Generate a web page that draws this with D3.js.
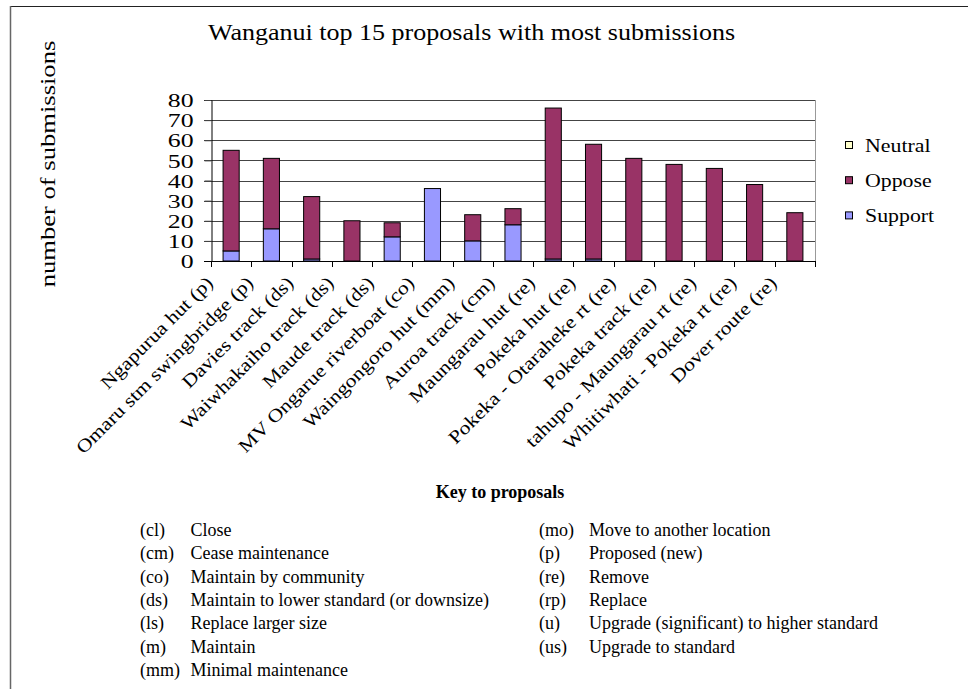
<!DOCTYPE html>
<html lang="en">
<head>
<meta charset="UTF-8">
<style>
  body { margin: 0; background: #fff; }
  svg text { font-family: "Liberation Serif", "Times New Roman", serif; fill: #000; }
  .grid line { stroke: #444; stroke-width: 1px; }
  .bar { stroke: #000; stroke-width: 1px; }
</style>
</head>
<body>
<svg width="968" height="689"></svg>
<script src="https://cdn.jsdelivr.net/npm/d3@7"></script>
<script>
// chart data
var categories = ["Ngapurua hut (p)", "Omaru stm swingbridge (p)", "Davies track (ds)",
  "Waiwhakaiho track (ds)", "Maude track (ds)", "MV Ongarue riverboat (co)",
  "Waingongoro hut (mm)", "Auroa track (cm)", "Maungarau hut (re)", "Pokeka hut (re)",
  "Pokeka - Otaraheke rt (re)", "Pokeka track (re)", "tahupo - Maungarau rt (re)",
  "Whitiwhati - Pokeka rt (re)", "Dover route (re)"];
var support = [5, 16, 1, 0, 12, 36, 10, 18, 1, 1, 0, 0, 0, 0, 0];
var oppose  = [50, 35, 31, 20, 7, 0, 13, 8, 75, 57, 51, 48, 46, 38, 24];
var neutral = [0, 0, 0, 0, 0, 0, 0, 0, 0, 0, 0, 0, 0, 0, 0];
var yTicks = [0, 10, 20, 30, 40, 50, 60, 70, 80];
var legendItems = ["Neutral", "Oppose", "Support"];

var keyLeft = [["(cl)", "Close"], ["(cm)", "Cease maintenance"], ["(co)", "Maintain by community"],
  ["(ds)", "Maintain to lower standard (or downsize)"], ["(ls)", "Replace larger size"],
  ["(m)", "Maintain"], ["(mm)", "Minimal maintenance"]];
var keyRight = [["(mo)", "Move to another location"], ["(p)", "Proposed (new)"], ["(re)", "Remove"],
  ["(rp)", "Replace"], ["(u)", "Upgrade (significant) to higher standard"], ["(us)", "Upgrade to standard"]];

var colors = {Support: "#9999ff", Oppose: "#993366", Neutral: "#ffffcc"};

var svg = d3.select("svg");

// page frame
svg.append("line").attr("x1", 10).attr("x2", 968).attr("y1", 6.5).attr("y2", 6.5)
  .attr("stroke", "#222").attr("stroke-width", 1.2);
svg.append("line").attr("x1", 10.5).attr("x2", 10.5).attr("y1", 6).attr("y2", 689)
  .attr("stroke", "#666").attr("stroke-width", 1.5);

var plot = {left: 211, right: 815, top: 100, bottom: 261};

var x = d3.scaleBand().domain(categories).range([plot.left, plot.right]).paddingInner(0).paddingOuter(0);
var y = d3.scaleLinear().domain([0, 80]).range([plot.bottom, plot.top]);

// title
svg.append("text")
  .attr("transform", "translate(471.5,40) scale(1.085,1)")
  .attr("text-anchor", "middle")
  .style("font-size", "24px")
  .text("Wanganui top 15 proposals with most submissions");

// y axis title
svg.append("text")
  .attr("transform", "translate(55,164) rotate(-90) scale(1.33,1)")
  .attr("text-anchor", "middle")
  .style("font-size", "20px")
  .text("number of submissions");

// gridlines
svg.append("g").attr("class", "grid")
  .selectAll("line").data(yTicks.slice(1)).enter().append("line")
  .attr("x1", plot.left - 7).attr("x2", plot.right)
  .attr("y1", function(d) { return Math.round(y(d)) + 0.5; })
  .attr("y2", function(d) { return Math.round(y(d)) + 0.5; });

// right border of plot area
svg.append("line").attr("x1", plot.right + 0.5).attr("x2", plot.right + 0.5)
  .attr("y1", plot.top).attr("y2", plot.bottom).attr("stroke", "#999");

// stacked bars
var rows = categories.map(function(c, i) {
  return {cat: c, Support: support[i], Oppose: oppose[i], Neutral: neutral[i]};
});
var series = d3.stack().keys(["Support", "Oppose", "Neutral"])(rows);
var barW = x.bandwidth() / 2.5;

svg.append("g").selectAll("g").data(series).enter().append("g")
  .attr("fill", function(d) { return colors[d.key]; })
  .selectAll("rect").data(function(d) { return d.filter(function(p) { return p[1] > p[0]; }); })
  .enter().append("rect")
  .attr("class", "bar")
  .attr("x", function(d) { return x(d.data.cat) + (x.bandwidth() - barW) / 2; })
  .attr("width", barW)
  .attr("y", function(d) { return y(d[1]); })
  .attr("height", function(d) { return y(d[0]) - y(d[1]); });

// y axis
var yAxis = svg.append("g")
  .attr("transform", "translate(" + (plot.left + 0.5) + ",0)")
  .call(d3.axisLeft(y).tickValues(yTicks).tickSize(7).tickPadding(0));
yAxis.select(".domain").attr("stroke", "#000");
yAxis.selectAll("line").attr("stroke", "#444");
yAxis.selectAll("text")
  .attr("x", -13.2)
  .attr("dy", "0.35em")
  .attr("transform", "scale(1.36,1)")
  .style("font-size", "19px")
  .style("font-family", "'Liberation Serif', serif");

// x axis baseline with ticks at category boundaries
var xg = svg.append("g");
xg.append("line").attr("x1", plot.left - 7).attr("x2", plot.right)
  .attr("y1", plot.bottom + 0.5).attr("y2", plot.bottom + 0.5).attr("stroke", "#000");
xg.selectAll(".tk").data(categories.concat(["end"])).enter().append("line")
  .attr("class", "tk")
  .attr("x1", function(d, i) { return Math.round(plot.left + i * x.step()) + 0.5; })
  .attr("x2", function(d, i) { return Math.round(plot.left + i * x.step()) + 0.5; })
  .attr("y1", plot.bottom).attr("y2", plot.bottom + 6).attr("stroke", "#000");

xg.selectAll(".lbl").data(categories).enter().append("text")
  .attr("class", "lbl")
  .attr("text-anchor", "end")
  .attr("transform", function(d) {
    var cx = x(d) + x.bandwidth() / 2;
    return "translate(" + (cx - 17) + ",284) rotate(-45) scale(1.18,1)";
  })
  .style("font-size", "18.5px")
  .text(function(d) { return d; });

// legend
var lg = svg.append("g").selectAll("g").data(legendItems).enter().append("g")
  .attr("transform", function(d, i) { return "translate(845," + (152 + i * 35.2) + ")"; });
lg.append("rect").attr("x", 0.5).attr("y", -10.5).attr("width", 7).attr("height", 7)
  .attr("fill", function(d) { return colors[d]; }).attr("stroke", "#000");
lg.append("text").attr("transform", "translate(20,0) scale(1.15,1)")
  .style("font-size", "19px")
  .text(function(d) { return d; });

// key to proposals
svg.append("text").attr("x", 500).attr("y", 498).attr("text-anchor", "middle")
  .style("font-size", "18px").style("font-weight", "bold")
  .text("Key to proposals");

function keyColumn(list, codeX, descX) {
  var g = svg.append("g").selectAll("g").data(list).enter().append("g")
    .attr("transform", function(d, i) { return "translate(0," + (536 + i * 23.3) + ")"; });
  g.append("text").attr("x", codeX).style("font-size", "18px").text(function(d) { return d[0]; });
  g.append("text").attr("x", descX).style("font-size", "18px").text(function(d) { return d[1]; });
}
keyColumn(keyLeft, 140, 190.5);
keyColumn(keyRight, 539, 589);
</script>
</body>
</html>
